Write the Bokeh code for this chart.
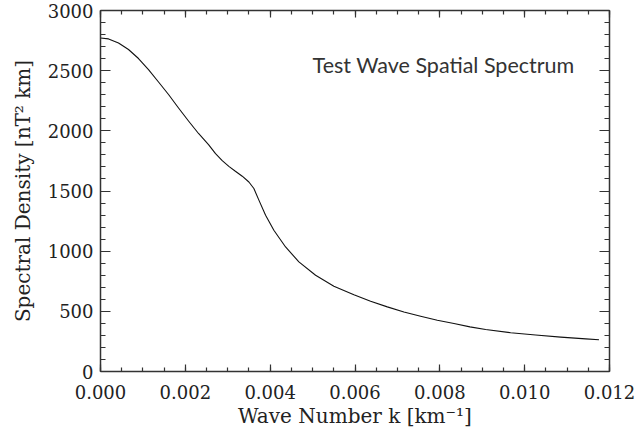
from bokeh.plotting import figure
from bokeh.models import LinearAxis, FixedTicker, NumeralTickFormatter, Range1d, Label
from bokeh.embed import file_html
from bokeh.resources import INLINE

# Data
wave_number = [0.0, 0.00019, 0.000425, 0.00066, 0.000896, 0.001132, 0.001368,
               0.001604, 0.00184, 0.002075, 0.002311, 0.002547, 0.002712,
               0.00287, 0.003026, 0.00318, 0.003342, 0.003498, 0.003616,
               0.003734, 0.003892, 0.004087, 0.004363, 0.004677, 0.005071,
               0.005502, 0.005974, 0.006368, 0.006762, 0.007153, 0.007547,
               0.007941, 0.008333, 0.00871, 0.00908, 0.00967, 0.010259,
               0.010849, 0.011439, 0.011752]
spectral_density = [2772, 2764, 2730, 2676, 2601, 2509, 2406,
                    2302, 2190, 2082, 1978, 1886, 1810,
                    1752, 1705, 1664, 1623, 1575, 1521,
                    1424, 1299, 1174, 1035, 911, 800,
                    708, 638, 584, 537, 495, 459,
                    426, 399, 371, 349, 322, 303,
                    286, 271, 264]

x_ticks = [0.0, 0.002, 0.004, 0.006, 0.008, 0.010, 0.012]
x_minor = [i * 0.0005 for i in range(25)]
y_ticks = [0, 500, 1000, 1500, 2000, 2500, 3000]
y_minor = [i * 100 for i in range(31)]

title_text = "Test Wave Spatial Spectrum"
x_label = "Wave Number k [km\u207b\u00b9]"
y_label = "Spectral Density [nT\u00b2 km]"

TXT = "#222222"
SERIF = "DejaVu Serif"
AXC = "#333333"

p = figure(width=638, height=435, output_backend="svg", toolbar_location=None,
           x_range=Range1d(0, 0.012), y_range=Range1d(0, 3000),
           min_border_left=100, min_border_right=29, min_border_top=10,
           min_border_bottom=64, x_axis_label=x_label, y_axis_label=y_label)
p.frame_width = 509
p.frame_height = 361
p.outline_line_color = None
p.xgrid.visible = False
p.ygrid.visible = False
p.background_fill_color = "white"
p.border_fill_color = "white"

p.line(wave_number, spectral_density, line_color="#111111", line_width=1.1,
       line_join="round")


def style_ticks(ax, maj, mnr):
    ax.major_tick_in = maj
    ax.major_tick_out = 0
    ax.minor_tick_in = mnr
    ax.minor_tick_out = 0
    ax.axis_line_width = 1.5
    ax.axis_line_color = AXC
    ax.major_tick_line_color = AXC
    ax.minor_tick_line_color = AXC
    ax.major_tick_line_width = 1.2
    ax.minor_tick_line_width = 1.2


xa = p.xaxis[0]
ya = p.yaxis[0]
xa.ticker = FixedTicker(ticks=x_ticks, minor_ticks=x_minor)
ya.ticker = FixedTicker(ticks=y_ticks, minor_ticks=y_minor)
xa.formatter = NumeralTickFormatter(format="0.000")
ya.formatter = NumeralTickFormatter(format="0")

for ax, maj, mnr in ((xa, 7, 4), (ya, 10, 5)):
    style_ticks(ax, maj, mnr)
    ax.major_label_text_font = SERIF
    ax.major_label_text_font_size = "18px"
    ax.major_label_text_color = TXT
    ax.axis_label_text_font = SERIF
    ax.axis_label_text_font_size = "20px"
    ax.axis_label_text_font_style = "normal"
    ax.axis_label_text_color = TXT

xa.major_label_standoff = 13
xa.axis_label_standoff = 2
ya.major_label_standoff = 7
ya.axis_label_standoff = 10

# mirrored axes (top and right) with ticks only, no labels drawn
top = LinearAxis(ticker=FixedTicker(ticks=x_ticks, minor_ticks=x_minor))
right = LinearAxis(ticker=FixedTicker(ticks=y_ticks, minor_ticks=y_minor))
for ax, maj, mnr in ((top, 7, 4), (right, 10, 5)):
    style_ticks(ax, maj, mnr)
    ax.major_label_text_color = None
    ax.major_label_text_font_size = "1px"
    ax.major_label_standoff = 0
p.add_layout(top, "above")
p.add_layout(right, "right")

p.add_layout(Label(x=0.0050, y=2545, text=title_text, text_font="Lato",
                   text_font_size="21.5px", text_color="#333333",
                   text_baseline="middle", text_align="left"))

open("out.html", "w").write(file_html(p, INLINE))
